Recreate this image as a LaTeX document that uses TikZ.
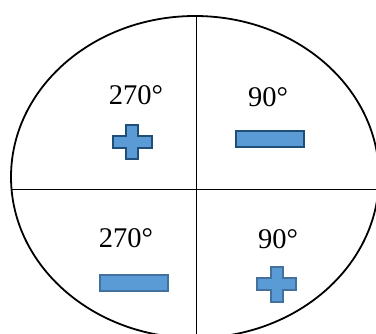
\documentclass[tikz,border=0pt]{standalone}
\usepackage{fontspec}
\setmainfont{Liberation Serif}
\definecolor{signfill}{HTML}{5B9BD5}
\definecolor{darkedge}{HTML}{1F4E79}
\definecolor{lightedge}{HTML}{41719C}
\begin{document}
\begin{tikzpicture}[x=1pt,y=-1pt,
  deg/.style={inner sep=0pt,anchor=base,font=\fontsize{28.5}{30}\selectfont},
  sign/.style={fill=signfill,line width=1.4pt},
  axis/.style={line width=0.9pt,black}]
\useasboundingbox (0,0) rectangle (376,334);
\clip (0,0) rectangle (376,334);
% outline
\draw[line width=1.8pt] (195,177) ellipse [x radius=184, y radius=161];
% axes
\coordinate (vt) at (196,16);
\coordinate (vb) at (196,334);
\coordinate (hl) at (11,189);
\coordinate (hr) at (376,189);
\draw[axis] (vt) -- (vb);
\draw[axis] (hl) -- (hr);
% labels
\node[deg] (tl) at (136,105) {270°};
\node[deg] (tr) at (268,107) {90°};
\node[deg] (bl) at (126,248) {270°};
\node[deg] (br) at (278,249) {90°};
% top-left plus
\draw[sign,draw=darkedge] (126,125) -- (138,125) -- (138,136) -- (152,136) -- (152,148) -- (138,148) -- (138,159) -- (126,159) -- (126,148) -- (113,148) -- (113,136) -- (126,136) -- cycle;
% top-right minus
\draw[sign,draw=darkedge] (236,131) rectangle (304,147);
% bottom-left minus
\draw[sign,draw=lightedge] (100,275) rectangle (168,291);
% bottom-right plus
\draw[sign,draw=lightedge] (271,267) -- (283,267) -- (283,278) -- (296,278) -- (296,290) -- (283,290) -- (283,302) -- (271,302) -- (271,290) -- (257,290) -- (257,278) -- (271,278) -- cycle;
\end{tikzpicture}
\end{document}
